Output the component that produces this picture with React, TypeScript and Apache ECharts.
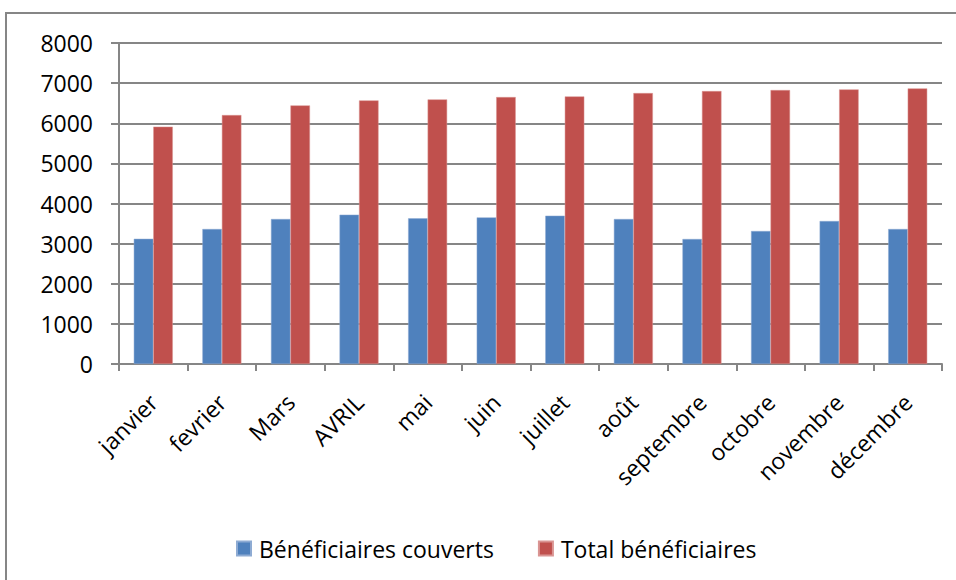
import React, { useEffect, useRef } from "react";
import * as echarts from "echarts";

const categories = ["janvier", "fevrier", "Mars", "AVRIL", "mai", "juin", "juillet", "août", "septembre", "octobre", "novembre", "décembre"];
const couverts = [3120, 3364, 3613, 3721, 3630, 3654, 3696, 3613, 3115, 3314, 3563, 3364];
const total = [5915, 6204, 6445, 6570, 6595, 6653, 6669, 6752, 6802, 6827, 6844, 6869];
const seriesNames = ["Bénéficiaires couverts", "Total bénéficiaires"];

const FONT = "Open Sans";
const GRAY = "#868686";
const FS = 23;

export default function App() {
  const ref = useRef<HTMLDivElement>(null);
  useEffect(() => {
    if (!ref.current) return;
    const chart = echarts.init(ref.current, null, { renderer: "svg" });
    chart.setOption({
      animation: false,
      backgroundColor: "#ffffff",
      textStyle: { fontFamily: FONT },
      graphic: [
        {
          type: "rect",
          shape: { x: 6, y: 13, width: 1000, height: 1000 },
          style: { fill: "none", stroke: GRAY, lineWidth: 2 },
          silent: true,
        },
      ],
      legend: {
        left: 231,
        top: 532,
        itemWidth: 14,
        itemHeight: 14,
        itemGap: 44,
        icon: "rect",
        textStyle: { fontFamily: FONT, fontSize: FS, color: "#000", padding: [0, 0, 0, 3] },
        data: seriesNames,
      },
      grid: { left: 119, right: 14, top: 43, bottom: 216, containLabel: false },
      xAxis: {
        type: "category",
        data: categories,
        axisLine: { lineStyle: { color: GRAY, width: 2 } },
        axisTick: { show: true, length: 7, lineStyle: { color: GRAY, width: 2 } },
        axisLabel: {
          rotate: 45,
          margin: 34,
          fontFamily: FONT,
          fontSize: FS,
          color: "#000",
          interval: 0,
        },
      },
      yAxis: {
        type: "value",
        min: 0,
        max: 8000,
        interval: 1000,
        axisLine: { show: true, lineStyle: { color: GRAY, width: 2 } },
        axisTick: { show: true, length: 8, lineStyle: { color: GRAY, width: 2 } },
        splitLine: { show: true, lineStyle: { color: GRAY, width: 2 } },
        axisLabel: {
          margin: 26,
          fontFamily: FONT,
          fontSize: FS,
          color: "#000",
          formatter: (v: number) => String(v),
        },
      },
      series: [
        {
          name: seriesNames[0],
          type: "bar",
          data: couverts,
          barWidth: 19.5,
          barGap: "0%",
          itemStyle: { color: "#4F81BD", borderColor: "#8EABD3", borderWidth: 0.5 },
        },
        {
          name: seriesNames[1],
          type: "bar",
          data: total,
          barWidth: 19.5,
          barGap: "0%",
          itemStyle: { color: "#C0504D", borderColor: "#DA9593", borderWidth: 0.5 },
        },
      ],
    });
    return () => chart.dispose();
  }, []);
  return (
    <div
      ref={ref}
      style={{ position: "absolute", left: 0, top: 0, width: 956, height: 580 }}
    />
  );
}
